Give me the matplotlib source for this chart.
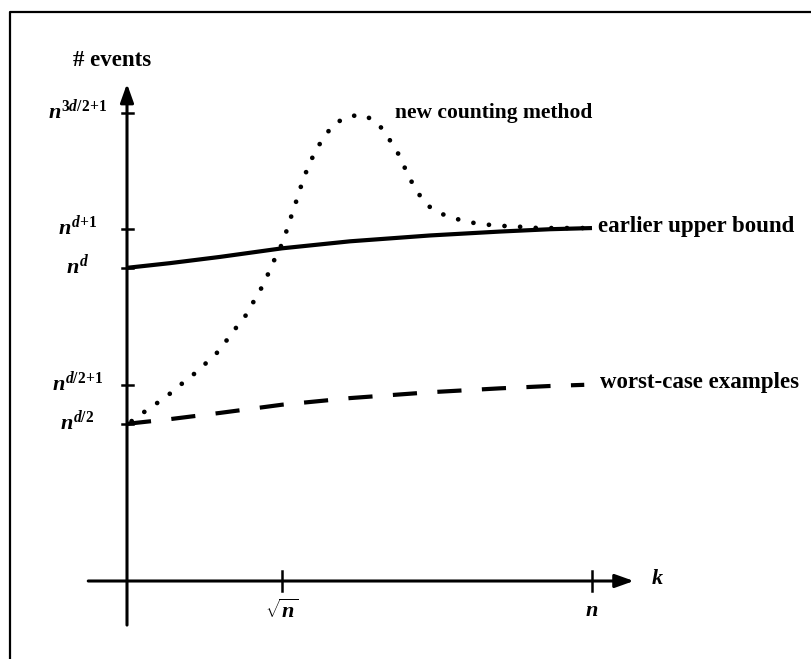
import numpy as np
import matplotlib.pyplot as plt
from matplotlib.patches import FancyArrowPatch

plt.rcParams['font.family'] = ['Liberation Serif', 'DejaVu Serif']
plt.rcParams['mathtext.fontset'] = 'custom'
plt.rcParams['mathtext.rm'] = 'Liberation Serif:bold'
plt.rcParams['mathtext.it'] = 'Liberation Serif:italic:bold'
plt.rcParams['mathtext.bf'] = 'Liberation Serif:bold'

# x in units of sqrt(n) spacing (sqrt(n) = 1, n = 3), y in units of exponent of n
x_ticks = [1.0, 3.0]
x_tick_labels = [r'$\sqrt{n}$', r'$n$']
y_ticks = [12.0, 9.03, 8.03, 5.03, 4.03]
y_tick_labels = [r'$n^{3d/2\!+\!1}$', r'$n^{d\!+\!1}$', r'$n^{d}$',
                 r'$n^{d/2\!+\!1}$', r'$n^{d/2}$']

# earlier upper bound (solid)
upper_x = [0.0, 0.277, 0.6, 1.0, 1.439, 1.955, 2.406, 2.729, 3.0]
upper_y = [8.03, 8.15, 8.31, 8.53, 8.71, 8.86, 8.96, 9.02, 9.05]

# worst-case examples (dashed)
worst_x = [0.0, 0.277, 0.6, 1.0, 1.439, 1.955, 2.406, 2.729, 2.95]
worst_y = [4.03, 4.15, 4.31, 4.52, 4.69, 4.84, 4.94, 5.00, 5.03]

# new counting method (dotted)
new_x = [0.03, 0.084, 0.168, 0.258, 0.335, 0.419, 0.497, 0.574, 0.639, 0.703,
         0.768, 0.819, 0.871, 0.916, 0.961, 1.006, 1.039, 1.071, 1.103, 1.135,
         1.174, 1.219, 1.271, 1.335, 1.432, 1.529, 1.619, 1.677, 1.735, 1.781,
         1.826, 1.877, 1.942, 2.032, 2.129, 2.239, 2.342, 2.445, 2.548, 2.652, 3.0]
new_y = [4.10, 4.26, 4.49, 4.74, 5.00, 5.26, 5.54, 5.82, 6.15, 6.49,
         6.82, 7.18, 7.54, 7.92, 8.33, 8.69, 9.10, 9.49, 9.87, 10.28,
         10.67, 11.05, 11.38, 11.72, 11.92, 11.95, 11.74, 11.41, 11.08, 10.69,
         10.31, 9.95, 9.62, 9.41, 9.28, 9.18, 9.13, 9.10, 9.08, 9.05, 9.05]

fig = plt.figure(figsize=(8.11, 6.59), dpi=100)
ax = fig.add_axes([0, 0, 1, 1])
ax.set_xlim(-127 / 155, 684 / 155)
ax.set_ylim(-78 / 39, 581 / 39)
ax.axis('off')

# frame (left and top edges of the scanned box)
ax.plot([10 / 811, 10 / 811, 1], [0, 1 - 12 / 659, 1 - 12 / 659],
        transform=ax.transAxes, color='black', lw=1.6, solid_capstyle='butt')

# axes with arrows
for start, end in [((0, -1.13), (0, 12.75)), ((-0.25, 0), (3.27, 0))]:
    ax.add_patch(FancyArrowPatch(start, end, arrowstyle='-|>,head_length=7,head_width=2.5',
                                 lw=2.2, color='black', shrinkA=0, shrinkB=0,
                                 mutation_scale=1.6))

# ticks
for yt, lab in zip(y_ticks, y_tick_labels):
    ax.plot([-0.033, 0.04], [yt, yt], color='black', lw=1.8)
    ax.text(-0.32, yt + 0.05, lab, ha='center', va='center', fontsize=16)
for xt, lab in zip(x_ticks, x_tick_labels):
    ax.plot([xt, xt], [-0.25, 0.26], color='black', lw=1.8)
    ax.text(xt, -0.78, lab, ha='center', va='center', fontsize=16)

ax.text(3.38, 0.05, r'$k$', ha='left', va='center', fontsize=16)
ax.text(-0.35, 13.35, '# events', ha='left', va='center', fontsize=16.5, fontweight='bold')

# curves
ax.plot(upper_x, upper_y, color='black', lw=3.0, solid_capstyle='butt')
ax.plot(worst_x, worst_y, color='black', lw=3.0, linestyle=(0, (5.8, 4.9)),
        dash_capstyle='butt')
ax.plot(new_x, new_y, color='black', lw=3.4, linestyle=(0, (0.01, 3.3)),
        dash_capstyle='round')

ax.text(1.73, 12.0, 'new counting method', ha='left', va='center',
        fontsize=15.5, fontweight='bold')
ax.text(3.04, 9.1, 'earlier upper bound', ha='left', va='center',
        fontsize=16.5, fontweight='bold')
ax.text(3.05, 5.1, 'worst-case examples', ha='left', va='center',
        fontsize=16.5, fontweight='bold')

fig.savefig('out.png', dpi=100)
